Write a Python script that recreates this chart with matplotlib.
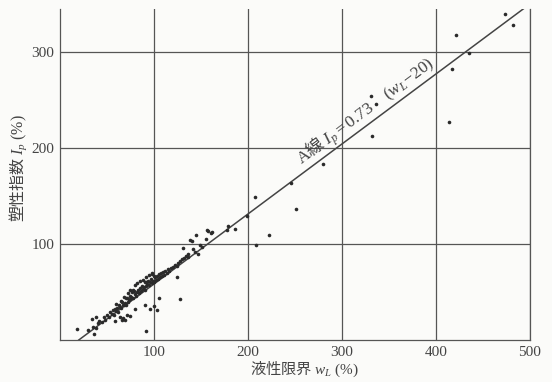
import numpy as np
import matplotlib
matplotlib.use("Agg")
import matplotlib.pyplot as plt

plt.rcParams['font.family'] = ['Liberation Serif', 'Noto Sans CJK JP', 'DejaVu Sans']
plt.rcParams['mathtext.fontset'] = 'custom'
plt.rcParams['mathtext.rm'] = 'Liberation Serif'
plt.rcParams['mathtext.it'] = 'Liberation Serif:italic'
plt.rcParams['mathtext.sf'] = 'Liberation Serif'

CJK = 'Noto Sans CJK JP'

# Data: liquid limit wL (%) and plasticity index Ip (%)
wl_band = [30, 35, 38, 40, 42, 45, 47, 48, 50, 52, 53, 55, 56, 57, 58, 60, 60, 61, 62, 63,
           64, 65, 65, 66, 67, 68, 68, 69, 70, 70, 71, 72, 72, 73, 74, 75, 75, 76, 77, 78,
           78, 79, 80, 80, 81, 82, 82, 83, 84, 85, 85, 86, 87, 88, 88, 89, 90, 90, 91, 92,
           92, 93, 94, 95, 95, 96, 97, 98, 98, 99, 100, 100, 101, 102, 103, 104, 105, 106, 107, 108,
           110, 111, 112, 114, 115, 116, 118, 120, 122, 124, 126, 128, 130, 132, 134, 136]
ip_band = [10, 14, 12, 18, 20, 19, 24, 21, 26, 24, 29, 27, 31, 26, 32, 30, 38, 33, 29, 36,
           34, 41, 33, 40, 36, 37, 45, 39, 44, 36, 44, 40, 49, 42, 46, 43, 52, 45, 50, 44,
           52, 51, 48, 57, 46, 50, 59, 52, 49, 54, 61, 51, 56, 53, 63, 55, 60, 52, 60, 56,
           66, 58, 61, 57, 68, 60, 64, 59, 70, 62, 67, 60, 66, 63, 67, 64, 69, 66, 70, 67,
           71, 68, 72, 70, 74, 72, 75, 76, 78, 77, 80, 82, 84, 86, 88, 90]

wl_scatter = [18, 34, 38, 36, 59, 66, 69, 74, 80, 90, 96, 100, 103, 92, 67, 64, 71, 98, 105, 128,
              124, 131, 140, 145, 156, 161, 136, 144, 147, 138, 141, 151, 149, 155, 157, 162,
              179, 186, 178, 199, 207, 209, 222, 246, 251, 280, 331, 336, 332, 414, 417, 421,
              435, 473, 482]
ip_scatter = [11, 22, 24, 6, 20, 21, 21, 25, 32, 37, 32, 35, 31, 9, 23, 24, 26, 69, 44, 43,
              66, 96, 103, 109, 115, 112, 87, 92, 90, 104, 95, 97, 99, 105, 114, 113,
              119, 116, 115, 129, 149, 99, 110, 164, 137, 184, 254, 246, 213, 227, 283, 318,
              299, 340, 329]

line_wl = [20, 500]
line_coef = 0.73

fig = plt.figure(figsize=(5.52, 3.82), dpi=100)
fig.patch.set_facecolor('#fbfbf9')
ax = fig.add_axes([0.1087, 0.110, 0.8513, 0.866])
ax.set_facecolor('#fbfbf9')

ax.set_xlim(0, 500)
ax.set_ylim(0, 345)
ax.set_xticks([100, 200, 300, 400, 500])
ax.set_yticks([100, 200, 300])
ax.grid(True, color='#555555', linewidth=0.9)
ax.tick_params(length=0, colors='#444444', labelsize=11, pad=4)
for s in ['left', 'right', 'bottom']:
    ax.spines[s].set_color('#555555')
    ax.spines[s].set_linewidth(0.9)
ax.spines['top'].set_visible(False)

ly = [line_coef * (w - 20) for w in line_wl]
ax.plot(line_wl, ly, color='#444444', linewidth=1.1, zorder=3)

ax.plot(wl_band, ip_band, 'o', color='#2a2a2a', markersize=2.6, markeredgewidth=0, zorder=4)
ax.plot(wl_scatter, ip_scatter, 'o', color='#2a2a2a', markersize=2.6, markeredgewidth=0, zorder=4)

# annotation along the line
tx = 333
ty = line_coef * (tx - 20)
ang = ax.transData.transform_angles(np.array([np.degrees(np.arctan(line_coef))]),
                                    np.array([[tx, ty]]))[0]
ax.annotate('$\\mathrm{A}$線 $I_p\\mathrm{=0.73}\\ \\ \\ \\ \\mathrm{(}w_L\\mathrm{-20)}$',
            xy=(tx, ty), xytext=(0, 0), family=CJK,
            textcoords='offset points', rotation=ang, rotation_mode='anchor',
            ha='center', va='bottom', fontsize=12.5, color='#444444')

ax.set_xlabel('液性限界 $w_L\\ \\mathrm{(\\%)}$', fontsize=11, color='#444444', family=CJK)
ax.xaxis.set_label_coords(0.52, -0.06)
ax.set_ylabel('塑性指数 $I_p\\ \\mathrm{(\\%)}$', fontsize=11.5, color='#444444', family=CJK)
ax.yaxis.set_label_coords(-0.066, 0.52)

fig.savefig('out.png', dpi=100, facecolor=fig.get_facecolor())
